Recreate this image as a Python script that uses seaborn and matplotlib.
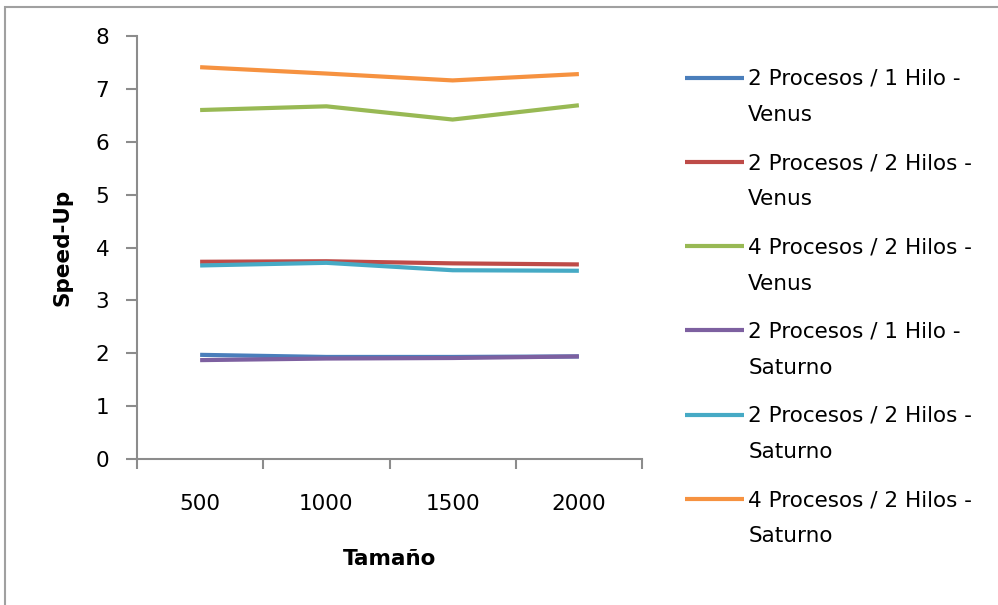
import matplotlib
matplotlib.use("Agg")
import matplotlib.pyplot as plt
import seaborn as sns
import pandas as pd
from matplotlib.legend_handler import HandlerLine2D
from matplotlib.patches import Rectangle
from matplotlib.ticker import FixedLocator

# ---- data ----
sizes = ["500", "1000", "1500", "2000"]
series_names = [
    "2 Procesos / 1 Hilo -\nVenus",
    "2 Procesos / 2 Hilos -\nVenus",
    "4 Procesos / 2 Hilos -\nVenus",
    "2 Procesos / 1 Hilo -\nSaturno",
    "2 Procesos / 2 Hilos -\nSaturno",
    "4 Procesos / 2 Hilos -\nSaturno",
]
p2h1_venus = [1.97, 1.93, 1.93, 1.94]
p2h2_venus = [3.73, 3.74, 3.70, 3.68]
p4h2_venus = [6.60, 6.67, 6.42, 6.69]
p2h1_saturno = [1.87, 1.90, 1.91, 1.94]
p2h2_saturno = [3.66, 3.71, 3.57, 3.56]
p4h2_saturno = [7.41, 7.29, 7.16, 7.28]
y_ticks = [0, 1, 2, 3, 4, 5, 6, 7, 8]

colors = ["#4A7EBB", "#BE4B48", "#98B954", "#7D60A0", "#46AAC5", "#F69240"]

all_values = [p2h1_venus, p2h2_venus, p4h2_venus, p2h1_saturno, p2h2_saturno, p4h2_saturno]
rows = []
for name, vals in zip(series_names, all_values):
    for i, (s, v) in enumerate(zip(sizes, vals)):
        rows.append({"pos": i, "Tamaño": s, "Speed-Up": v, "serie": name})
df = pd.DataFrame(rows)

sns.set_theme(style="white")
plt.rcParams["font.family"] = ["DejaVu Sans"]

FS = 15.5
fig = plt.figure(figsize=(9.98, 6.05), dpi=100)
ax = fig.add_axes([137 / 998, 1 - 459 / 605, 505 / 998, 423 / 605])

sns.lineplot(data=df, x="pos", y="Speed-Up", hue="serie", hue_order=series_names,
             palette=colors, linewidth=3, ax=ax, legend=False, sort=False)

ax.set_xlim(-0.5, len(sizes) - 0.5)
ax.set_ylim(0, 8)
ax.set_yticks(y_ticks)
ax.set_yticklabels([str(t) for t in y_ticks])
ax.set_xticks(range(len(sizes)))
ax.set_xticklabels(sizes)
ax.xaxis.set_minor_locator(FixedLocator([i - 0.5 for i in range(len(sizes) + 1)]))

axis_col = "#8C8C8C"
for side in ["top", "right"]:
    ax.spines[side].set_visible(False)
for side in ["left", "bottom"]:
    ax.spines[side].set_color(axis_col)
    ax.spines[side].set_linewidth(1.5)

ax.tick_params(axis="y", which="major", direction="out", length=8, width=1.5,
               color=axis_col, pad=12, labelsize=FS, labelcolor="black", left=True)
ax.tick_params(axis="x", which="major", length=0, pad=25.5, labelsize=FS, labelcolor="black")
ax.tick_params(axis="x", which="minor", direction="out", length=7, width=1.5,
               color=axis_col, bottom=True)

ax.set_xlabel("Tamaño", fontsize=FS, fontweight="bold", color="black")
ax.set_ylabel("Speed-Up", fontsize=FS, fontweight="bold", color="black")
ax.xaxis.set_label_coords(0.501, -0.212)
ax.yaxis.set_label_coords(-0.127, 0.5)
ax.grid(False)


class TopHandler(HandlerLine2D):
    def __init__(self, shift, **kw):
        super().__init__(**kw)
        self.shift = shift

    def create_artists(self, legend, orig_handle, xdescent, ydescent, width, height,
                       fontsize, trans):
        arts = super().create_artists(legend, orig_handle, xdescent, ydescent, width,
                                      height, fontsize, trans)
        for a in arts:
            yd = a.get_ydata()
            a.set_ydata([y + self.shift for y in yd])
        return arts


handles = ax.get_lines()[:len(series_names)]
LS = 2.03
shift = 37 / 2 * 0.72 + 1.0
hmap = {h: TopHandler(shift) for h in handles}
for h in handles:
    h.set_solid_capstyle("butt")
leg = fig.legend(handles, series_names, loc="upper left",
                 bbox_to_anchor=(674 / 998, 1 - 58 / 605), frameon=False,
                 fontsize=FS, handlelength=2.75, handletextpad=0.2,
                 labelspacing=1.29, handler_map=hmap, borderpad=0)
for t in leg.get_texts():
    t.set_linespacing(LS)
    t.set_color("black")

fig.patches.append(Rectangle((5 / 998, -0.1), 1.2, 1.1 - 7 / 605, transform=fig.transFigure,
                             fill=False, edgecolor="#A0A0A0", linewidth=1.5))

fig.savefig("out.png", dpi=100, facecolor="white")
